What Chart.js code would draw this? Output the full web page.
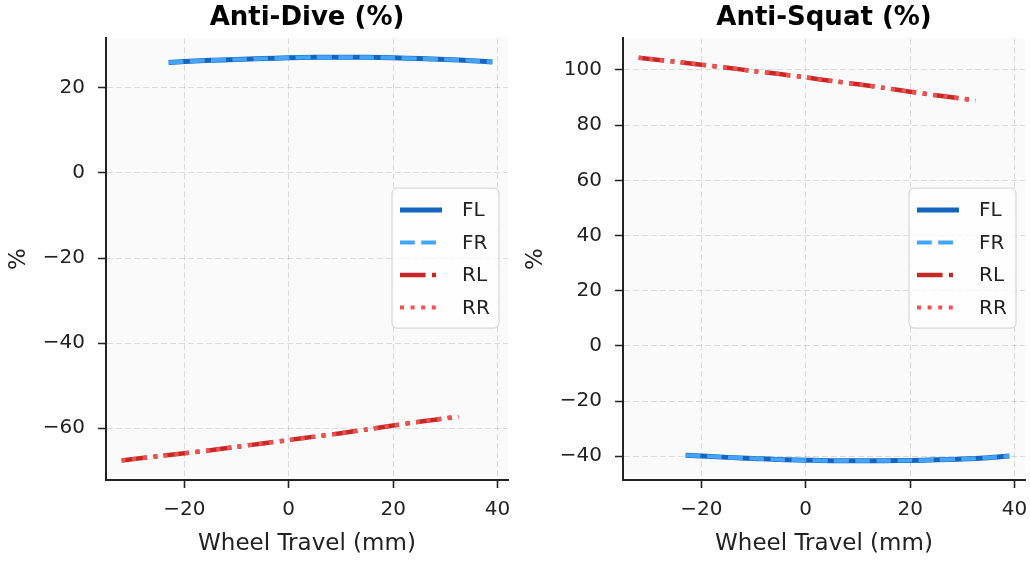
<!DOCTYPE html>
<html>
<head>
<meta charset="utf-8">
<script src="https://cdn.jsdelivr.net/npm/chart.js@4"></script>
<style>
  body { margin: 0; background: #fff; }
  .box { position: absolute; top: 0; height: 563px; }
</style>
</head>
<body>
<div class="box" style="left:0;width:517px"><canvas id="diveChart"></canvas></div>
<div class="box" style="left:517px;width:513px"><canvas id="squatChart"></canvas></div>
<script>
// wheel travel (mm)
const frontTravel = [-23, -15, -10, -5, 0, 5, 10, 15, 20, 25, 30, 35, 39];
const rearTravel = [-32, -25, -20, -15, -10, -5, 0, 5, 10, 15, 20, 25, 32.5];

// anti-dive (%)
const diveFront = [26.0, 26.5, 26.7, 26.9, 27.1, 27.2, 27.2, 27.2, 27.1, 26.9, 26.7, 26.4, 26.1];
const diveRear = [-67.6, -66.6, -65.9, -65.2, -64.4, -63.6, -62.8, -62.0, -61.2, -60.3, -59.4, -58.5, -57.3];

// anti-squat (%)
const squatFront = [-39.6, -40.4, -40.8, -41.2, -41.4, -41.6, -41.6, -41.6, -41.5, -41.3, -41.0, -40.5, -39.9];
const squatRear = [104.4, 103.0, 101.9, 100.8, 99.6, 98.5, 97.3, 96.0, 94.8, 93.5, 92.1, 90.8, 89.0];

const xTicks = [-20, 0, 20, 40];
const diveTicks = [-60, -40, -20, 0, 20];
const squatTicks = [-40, -20, 0, 20, 40, 60, 80, 100];

const FONT = "'DejaVu Sans', sans-serif";

const toPoints = function (xs, ys) {
  return xs.map((x, i) => ({ x: x, y: ys[i] }));
};

const fmt = function (v) {
  return String(v).replace("-", "\u2212");
};

// plot background
const bgPlugin = {
  id: "plotBg",
  beforeDraw(chart) {
    const a = chart.chartArea;
    const ctx = chart.ctx;
    ctx.save();
    ctx.fillStyle = "#fafafa";
    ctx.fillRect(a.left, a.top, a.right - a.left, a.bottom - a.top);
    ctx.restore();
  },
};

// legend box at the right middle of the plot
const legendPlugin = {
  id: "boxLegend",
  afterDraw(chart) {
    const a = chart.chartArea;
    const ctx = chart.ctx;
    const w = 107, h = 140, rowH = 32.5;
    const left = a.right - 9 - w;
    const top = (a.top + a.bottom) / 2 - h / 2 - 1;
    ctx.save();
    ctx.beginPath();
    ctx.roundRect(left, top, w, h, 5);
    ctx.fillStyle = "rgba(255,255,255,0.8)";
    ctx.fill();
    ctx.strokeStyle = "#d0d0d0";
    ctx.lineWidth = 1;
    ctx.stroke();
    chart.data.datasets.forEach((ds, i) => {
      const y = top + 22 + i * rowH;
      ctx.beginPath();
      ctx.setLineDash(ds.borderDash || []);
      ctx.lineCap = "butt";
      ctx.strokeStyle = ds.borderColor;
      ctx.lineWidth = ds.borderWidth;
      ctx.moveTo(left + 8, y);
      ctx.lineTo(left + 50, y);
      ctx.stroke();
      ctx.setLineDash([]);
      ctx.fillStyle = "#222";
      ctx.font = "20px " + FONT;
      ctx.textBaseline = "middle";
      ctx.textAlign = "left";
      ctx.fillText(ds.label, left + 70, y + 1);
    });
    ctx.restore();
  },
};

const makeDatasets = function (front, rear) {
  return [
    { label: "FL", data: toPoints(frontTravel, front), borderColor: "#1565c0", borderWidth: 5, order: 3 },
    { label: "FR", data: toPoints(frontTravel, front), borderColor: "#42a5f5", borderWidth: 4, borderDash: [14.8, 6.4], order: 2 },
    { label: "RL", data: toPoints(rearTravel, rear), borderColor: "#c62828", borderWidth: 4.5, borderDash: [25.6, 6.4, 4, 6.4], order: 1 },
    { label: "RR", data: toPoints(rearTravel, rear), borderColor: "#ef5350", borderWidth: 4, borderDash: [4, 6.6], order: 0 },
  ];
};

const makeConfig = function (title, front, rear, yMin, yMax, yTicks, rightPad) {
  return {
    type: "line",
    data: { datasets: makeDatasets(front, rear) },
    options: {
      responsive: true,
      maintainAspectRatio: false,
      animation: false,
      layout: { padding: { right: rightPad } },
      elements: {
        point: { radius: 0 },
        line: { tension: 0.3, fill: false },
      },
      scales: {
        x: {
          type: "linear",
          min: -35,
          max: 42,
          afterBuildTicks: (s) => { s.ticks = xTicks.map((v) => ({ value: v })); },
          afterFit: (s) => {
            s.height = 83;
            s.paddingLeft = 0; s.paddingRight = 0;
          },
          ticks: {
            color: "#222",
            padding: 10,
            font: { size: 20, family: FONT },
            callback: fmt,
          },
          grid: {
            color: "rgba(0,0,0,0.12)",
            lineWidth: 1,
            tickLength: 8,
            tickColor: "#222",
            tickWidth: 1.6,
            tickBorderDash: [1, 0],
          },
          border: { color: "#222", width: 2, dash: [6, 3] },
          title: {
            display: true,
            text: "Wheel Travel (mm)",
            color: "#222",
            padding: { top: 0, bottom: 5 },
            font: { size: 23, family: FONT },
          },
        },
        y: {
          min: yMin,
          max: yMax,
          afterBuildTicks: (s) => { s.ticks = yTicks.map((v) => ({ value: v })); },
          afterFit: (s) => {
            s.width = 106;
            s.paddingTop = 0; s.paddingBottom = 0;
          },
          ticks: {
            color: "#222",
            padding: 13,
            font: { size: 20, family: FONT },
            callback: fmt,
          },
          grid: {
            color: "rgba(0,0,0,0.12)",
            lineWidth: 1,
            tickLength: 8,
            tickColor: "#222",
            tickWidth: 1.6,
            tickBorderDash: [1, 0],
          },
          border: { color: "#222", width: 2, dash: [6, 3] },
          title: {
            display: true,
            text: "%",
            color: "#222",
            padding: { top: 5, bottom: 0 },
            font: { size: 23, family: FONT },
          },
        },
      },
      plugins: {
        title: {
          display: true,
          text: title,
          fullSize: false,
          color: "#000",
          padding: { top: 3, bottom: 4 },
          font: { size: 26, weight: "bold", family: FONT },
        },
        legend: { display: false },
        tooltip: { enabled: false },
      },
    },
    plugins: [bgPlugin, legendPlugin],
  };
};

const diveChart = new Chart(document.getElementById("diveChart"),
  makeConfig("Anti-Dive (%)", diveFront, diveRear, -72.2, 31.7, diveTicks, 9));
const squatChart = new Chart(document.getElementById("squatChart"),
  makeConfig("Anti-Squat (%)", squatFront, squatRear, -48.6, 111.5, squatTicks, 5));
</script>
</body>
</html>
